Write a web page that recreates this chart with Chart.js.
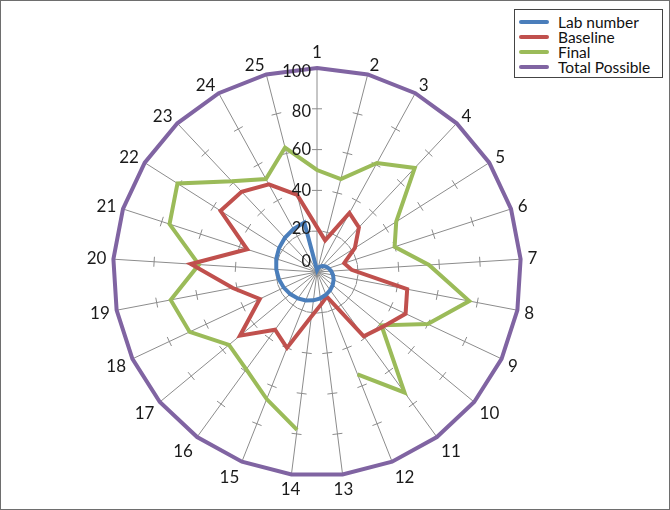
<!DOCTYPE html>
<html>
<head>
<meta charset="utf-8">
<script src="https://cdn.jsdelivr.net/npm/chart.js@4.4.0/dist/chart.umd.min.js"></script>
<style>
    html, body { margin: 0; padding: 0; background: #fff; }
    .frame {
        position: relative;
        width: 670px;
        height: 510px;
        box-sizing: border-box;
        border: 1px solid #6e6e6e;
        overflow: hidden;
    }
    #radarChart { position: absolute; left: 0; top: 0; }
    .legend {
        position: absolute;
        left: 513px;
        top: 8px;
        width: 149px;
        height: 69px;
        box-sizing: border-box;
        border: 1px solid #444;
        background: #fff;
        padding-top: 4px;
        font-family: Lato, "Open Sans", sans-serif;
        font-size: 15.5px;
        color: #111;
    }
    .legend-item { display: flex; align-items: center; height: 15px; }
    .legend-swatch { width: 30px; height: 4px; border-radius: 2px; margin: 0 9px 0 4px; }
</style>
</head>
<body>
<div class="frame">
    <canvas id="radarChart" width="670" height="510"></canvas>
    <div class="legend" id="legend"></div>
</div>
<script>
// categories (lab numbers around the wheel)
const categories = ['1','2','3','4','5','6','7','8','9','10','11','12','13',
                    '14','15','16','17','18','19','20','21','22','23','24','25'];

const labNumber = [1,2,3,4,5,6,7,8,9,10,11,12,13,14,15,16,17,18,19,20,21,22,23,24,25];
const baseline = [22,16,33,30,22,14,17,45,48,42,39,13,16,22,40,35,49,31,42,62,36,56,54,49,39];
const finalScores = [50,47,61,70,46,40,55,76,60,41,73,54,null,78,67,59,56,69,73,58,76,81,61,52,63];
const totalPossible = [100,100,100,100,100,100,100,100,100,100,100,100,100,
                       100,100,100,100,100,100,100,100,100,100,100,100];

const scaleTicks = [0, 20, 40, 60, 80, 100];
// Excel nudges the value labels a little off their tick
const tickLabelNudge = [-10, -3, 0, 0, 3, 4];

const seriesNames = ['Lab number', 'Baseline', 'Final', 'Total Possible'];
const seriesColors = ['#4a7ebb', '#c0504d', '#9bbb59', '#8064a2'];

const labelFont = '17px Lato, "Open Sans", sans-serif';

const radarExtras = {
    id: 'radarExtras',
    beforeDatasetsDraw(chart) {
        // small perpendicular tick marks on every spoke
        const scale = chart.scales.r;
        const ctx = chart.ctx;
        const n = chart.data.labels.length;
        ctx.save();
        ctx.strokeStyle = '#8c8c8c';
        ctx.lineWidth = 1;
        scaleTicks.forEach(v => {
            if (v === 0 || v === 100) return;
            const dist = scale.getDistanceFromCenterForValue(v);
            for (let i = 0; i < n; i++) {
                const p = scale.getPointPosition(i, dist);
                const dx = p.x - scale.xCenter;
                const dy = p.y - scale.yCenter;
                const len = Math.sqrt(dx * dx + dy * dy);
                const ux = -dy / len * 5;
                const uy = dx / len * 5;
                ctx.beginPath();
                ctx.moveTo(p.x - ux, p.y - uy);
                ctx.lineTo(p.x + ux, p.y + uy);
                ctx.stroke();
            }
        });
        ctx.restore();
    },
    afterDatasetsDraw(chart) {
        const scale = chart.scales.r;
        const ctx = chart.ctx;
        ctx.save();
        ctx.fillStyle = '#1a1a1a';
        ctx.textBaseline = 'middle';

        // value labels left of the first spoke
        ctx.font = '16.5px Lato, "Open Sans", sans-serif';
        ctx.textAlign = 'right';
        scaleTicks.forEach((v, i) => {
            const dist = scale.getDistanceFromCenterForValue(v);
            ctx.fillText(String(v), scale.xCenter - 6, scale.yCenter - dist + tickLabelNudge[i]);
        });

        // category labels placed Excel-style next to the outer vertex
        ctx.font = labelFont;
        ctx.textAlign = 'center';
        const outer = scale.getDistanceFromCenterForValue(scale.max);
        const gap = 7, halfH = 8;
        chart.data.labels.forEach((label, i) => {
            const p = scale.getPointPosition(i, outer);
            const sin = (p.x - scale.xCenter) / outer;
            const cos = (scale.yCenter - p.y) / outer;
            const w = ctx.measureText(label).width;
            let x = p.x + sin * gap;
            let y = p.y - cos * gap;
            if (Math.abs(sin) < 0.15) {
                y += cos > 0 ? -halfH : halfH;
            } else {
                x += Math.sign(sin) * w / 2;
                y -= cos * halfH * (cos > 0 ? 0.25 : 1.3);
            }
            ctx.fillText(label, x, y);
        });
        ctx.restore();
    }
};

const allSeries = [labNumber, baseline, finalScores, totalPossible];

const chart = new Chart(document.getElementById('radarChart'), {
    type: 'radar',
    data: {
        labels: categories,
        datasets: allSeries.map((values, i) => ({
            label: seriesNames[i],
            data: values,
            borderColor: seriesColors[i],
            backgroundColor: 'transparent',
            borderWidth: 4,
            pointRadius: 0,
            pointHoverRadius: 0,
            spanGaps: false,
            fill: false,
            tension: 0
        }))
    },
    options: {
        responsive: false,
        animation: false,
        layout: {
            padding: { left: 112, right: 150, top: 67, bottom: 35 }
        },
        plugins: {
            legend: { display: false },
            tooltip: { enabled: false }
        },
        scales: {
            r: {
                min: 0,
                max: 100,
                ticks: { display: false, stepSize: 20 },
                grid: { display: false },
                angleLines: { color: '#8c8c8c', lineWidth: 1 },
                pointLabels: { display: false }
            }
        }
    },
    plugins: [radarExtras]
});

// legend box built from the datasets
const legend = document.getElementById('legend');
legend.innerHTML = chart.data.datasets.map(ds => `
    <div class="legend-item">
        <span class="legend-swatch" style="background:${ds.borderColor}"></span>
        <span>${ds.label}</span>
    </div>
`).join('');
</script>
</body>
</html>
